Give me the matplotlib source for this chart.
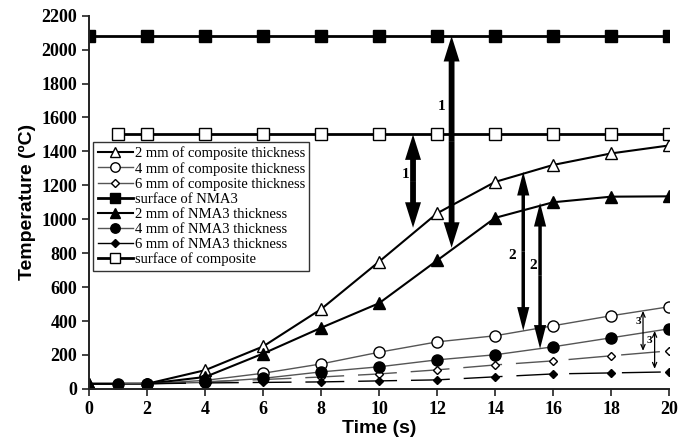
import numpy as np
import matplotlib
matplotlib.use("Agg")
import matplotlib.pyplot as plt
from matplotlib.patches import FancyArrow

# ---- data ----
t_even = [0, 2, 4, 6, 8, 10, 12, 14, 16, 18, 20]
t_from1 = [1, 2, 4, 6, 8, 10, 12, 14, 16, 18, 20]
t_from2 = [2, 4, 6, 8, 10, 12, 14, 16, 18, 20]

comp_2mm = [30, 30, 110, 250, 470, 750, 1035, 1220, 1320, 1388, 1435]
comp_4mm = [30, 50, 92, 147, 216, 277, 313, 372, 431, 484]
comp_6mm = [30, 42, 55, 70, 88, 112, 141, 165, 195, 224]
surf_nma3 = [2080] * 11
nma3_2mm = [30, 30, 70, 208, 360, 505, 757, 1008, 1100, 1133, 1135]
nma3_4mm = [30, 30, 38, 62, 100, 130, 171, 201, 248, 301, 354]
nma3_6mm = [30, 35, 38, 41, 47, 53, 71, 88, 94, 100]
surf_comp = [1500] * 11

# annotation arrows: (x, bottom, top, label, label_x, label_y)
big_arrows = [
    (11.17, 950, 1500, "1", 10.9, 1262),
    (12.5, 832, 2080, "1", 12.17, 1663),
]
mid_arrows = [
    (14.97, 342, 1280, "2", 14.59, 784),
    (15.55, 236, 1097, "2", 15.3, 725),
]
small_arrows = [
    (19.1, 224, 460, "3", 18.93, 395),
    (19.5, 118, 342, "3", 19.31, 283),
]

serif = "Liberation Serif"
sans = "Liberation Sans"

fig = plt.figure(figsize=(6.8, 4.48), dpi=100)
ax = fig.add_axes([0.131, 0.132, 0.853, 0.833])

gray = "#555555"
dash = (0, (28, 10))

ax.plot(t_even, comp_2mm, color="k", lw=1.5, marker="^", ms=8, mfc="white", mec="k",
        label="2 mm of composite thickness")
ax.plot(t_from2, comp_4mm, color=gray, lw=1.0, marker="o", ms=8, mfc="white", mec="k",
        label="4 mm of composite thickness")
ax.plot(t_from2, comp_6mm, color=gray, lw=1.0, marker="D", ms=4.5, mfc="white", mec="k",
        label="6 mm of composite thickness", linestyle=dash)
ax.plot(t_even, surf_nma3, color="k", lw=2.0, marker="s", ms=9, mfc="k", mec="k",
        label="surface of NMA3")
ax.plot(t_even, nma3_2mm, color="k", lw=1.5, marker="^", ms=8, mfc="k", mec="k",
        label="2 mm of NMA3 thickness")
ax.plot(t_from1, nma3_4mm, color=gray, lw=1.0, marker="o", ms=8, mfc="k", mec="k",
        label="4 mm of NMA3 thickness")
ax.plot(t_from2, nma3_6mm, color="k", lw=1.0, marker="D", ms=4.5, mfc="k", mec="k",
        label="6 mm of NMA3 thickness", linestyle=dash)
ax.plot(t_from1, surf_comp, color="k", lw=2.0, marker="s", ms=9, mfc="white", mec="k",
        label="surface of composite")


def double_arrow(x, y0, y1, shaft, hw, hl, lw=0):
    mid = (y0 + y1) / 2
    for a, b in ((mid, y1), (mid, y0)):
        ax.add_patch(FancyArrow(x, a, 0, b - a, width=shaft, head_width=hw, head_length=hl,
                                length_includes_head=True, color="k", lw=lw, zorder=5))


for x, y0, y1, lab, lx, ly in big_arrows:
    double_arrow(x, y0, y1, 0.2, 0.55, 150)
    ax.text(lx, ly, lab, fontfamily=serif, fontweight="bold", fontsize=11, ha="center", va="center")
for x, y0, y1, lab, lx, ly in mid_arrows:
    double_arrow(x, y0, y1, 0.12, 0.42, 140)
    ax.text(lx, ly, lab, fontfamily=serif, fontweight="bold", fontsize=11, ha="center", va="center")
for x, y0, y1, lab, lx, ly in small_arrows:
    ax.annotate("", xy=(x, y0), xytext=(x, y1),
                arrowprops=dict(arrowstyle="<->,head_length=0.35,head_width=0.15", lw=0.9,
                                color="k", shrinkA=0, shrinkB=0))
    ax.text(lx, ly, lab, fontfamily=serif, fontweight="bold", fontsize=8, ha="center", va="center")

ax.set_xlim(0, 20)
ax.set_ylim(0, 2200)
ax.set_xticks(np.arange(0, 21, 2))
ax.set_yticks(np.arange(0, 2201, 200))
for s in ("top", "right"):
    ax.spines[s].set_visible(False)
for s in ("left", "bottom"):
    ax.spines[s].set_linewidth(1.4)
    ax.spines[s].set_color("#222222")
ax.tick_params(direction="out", length=5, width=1.2, colors="#222222")
for lbl in ax.get_xticklabels() + ax.get_yticklabels():
    lbl.set_fontfamily(serif)
    lbl.set_fontweight("bold")
    lbl.set_fontsize(13)
    lbl.set_color("k")

ax.set_xlabel("Time (s)", fontfamily=sans, fontweight="bold", fontsize=14, labelpad=2)
ax.set_ylabel("Temperature (ºC)", fontfamily=sans, fontweight="bold", fontsize=14, labelpad=4)

leg = ax.legend(loc="upper left", bbox_to_anchor=(0.007, 0.662), prop={"family": serif, "size": 10.5},
                frameon=True, fancybox=False, edgecolor="#333333", framealpha=1,
                handlelength=2.4, handletextpad=0.15, labelspacing=0.12, borderpad=0.3,
                borderaxespad=0)
leg.get_frame().set_linewidth(1.0)
for h in leg.get_lines():
    h.set_linestyle("-")
    h.set_markersize(h.get_markersize() * 0.85)
leg.set_zorder(3)

fig.savefig("out.png", dpi=100)
